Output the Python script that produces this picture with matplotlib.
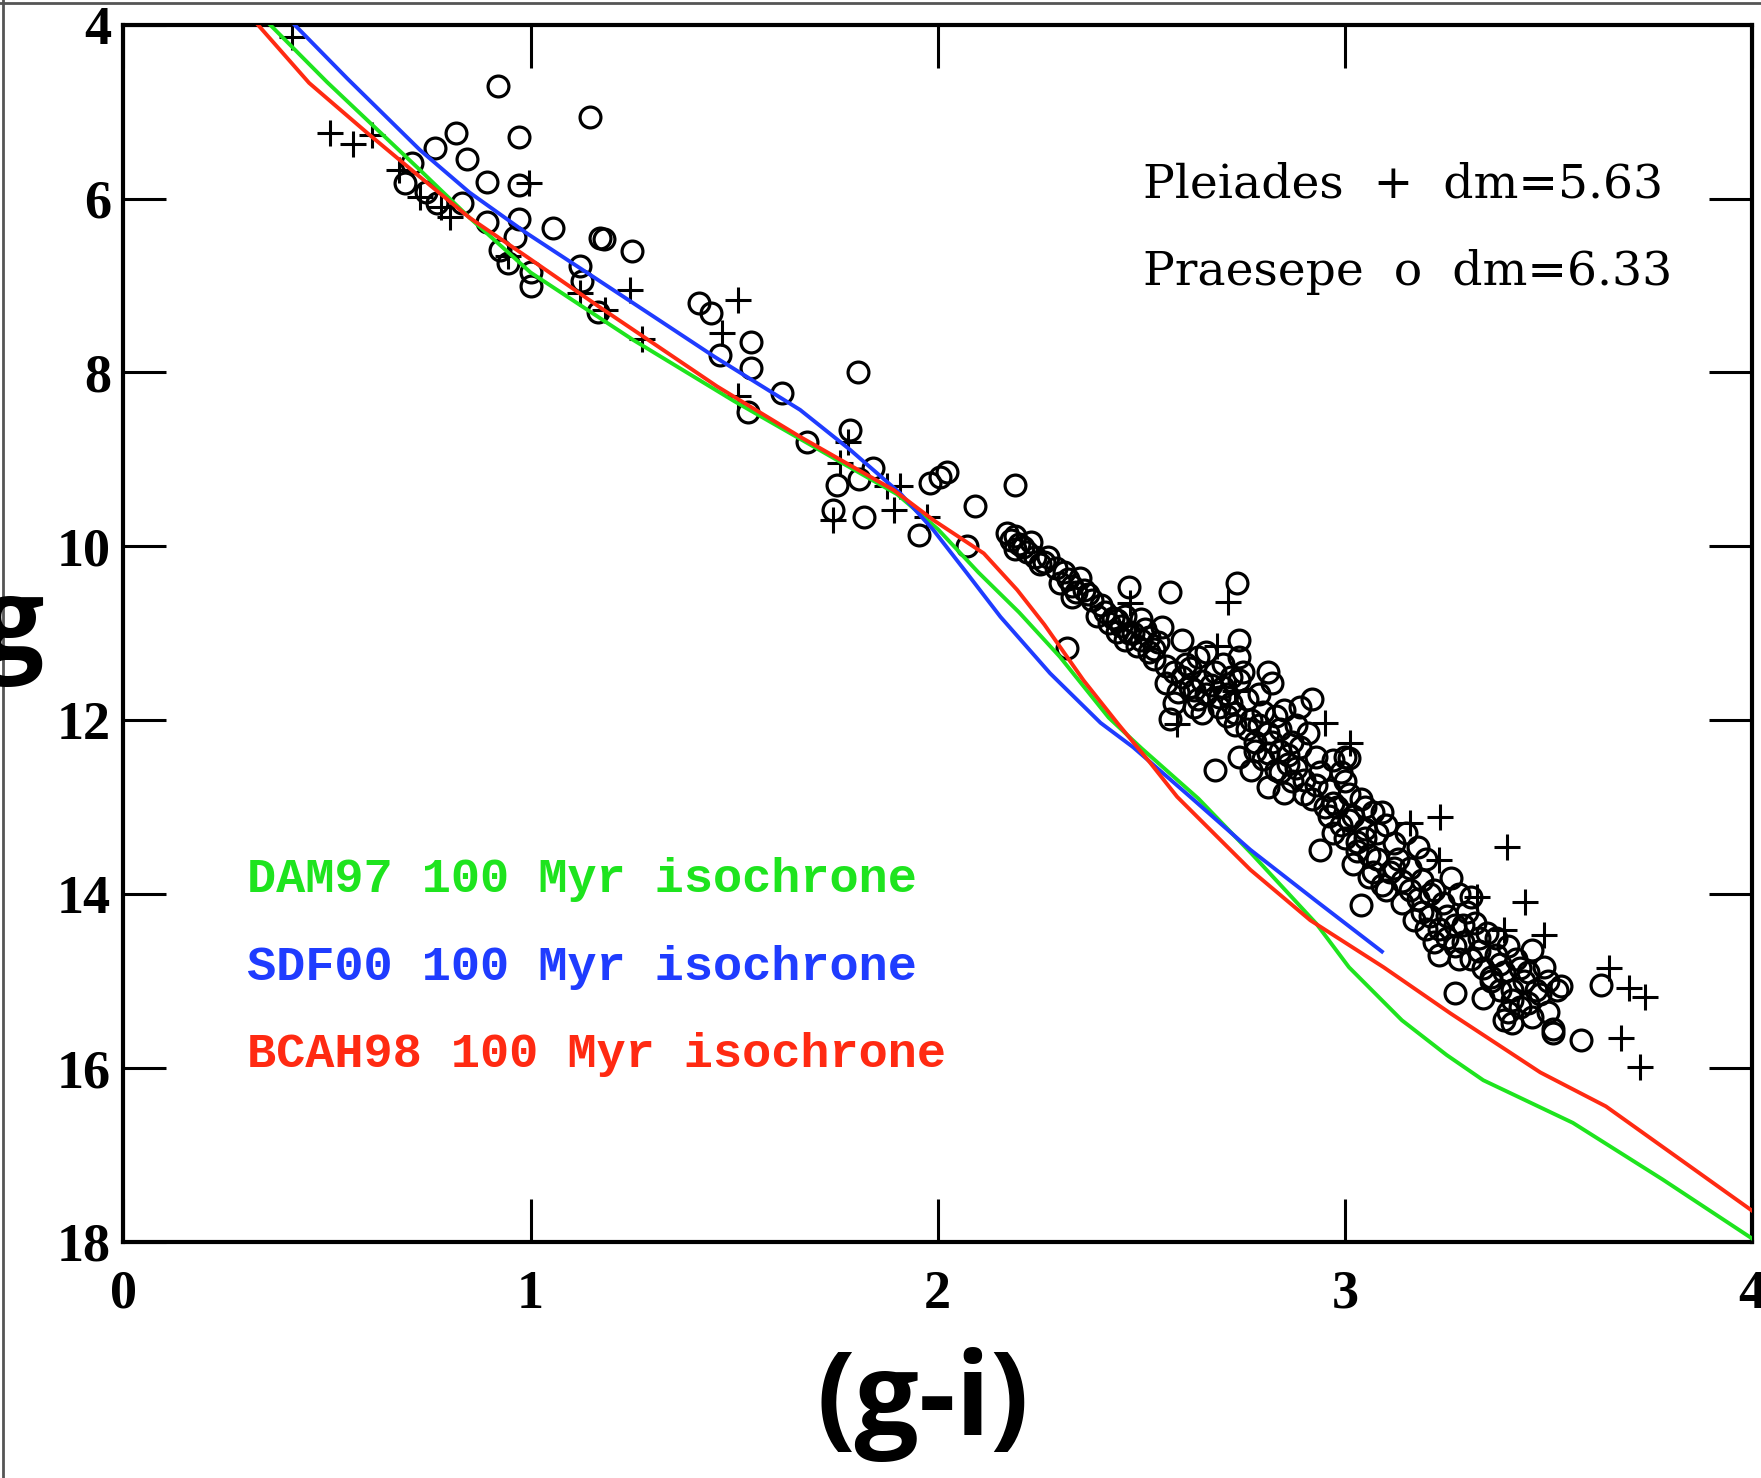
import matplotlib
matplotlib.use('Agg')
import matplotlib.pyplot as plt
from matplotlib.lines import Line2D

# Isochrones (g-i, g)
dam97_x = [0.36, 0.50, 0.728, 0.85, 1.0, 1.25, 1.5, 1.75, 1.9, 2.0, 2.1, 2.2, 2.3, 2.42,
           2.5, 2.64, 2.77, 2.93, 3.01, 3.14, 3.25, 3.34, 3.56, 3.78, 4.0]
dam97_y = [4.0, 4.66, 5.67, 6.22, 6.85, 7.62, 8.33, 9.0, 9.4, 9.8, 10.3, 10.76, 11.27, 11.97,
           12.32, 12.9, 13.53, 14.34, 14.84, 15.45, 15.85, 16.14, 16.63, 17.28, 17.96]

sdf00_x = [0.42, 0.55, 0.728, 0.85, 0.991, 1.167, 1.30, 1.452, 1.662, 1.785, 1.908, 1.989,
           2.072, 2.154, 2.276, 2.40, 2.48, 2.62, 2.768, 2.93, 3.091]
sdf00_y = [4.0, 4.62, 5.44, 5.93, 6.40, 6.94, 7.35, 7.82, 8.43, 8.89, 9.39, 9.81,
           10.31, 10.81, 11.46, 12.03, 12.31, 12.88, 13.49, 14.08, 14.66]

bcah98_x = [0.33, 0.456, 0.60, 0.728, 0.85, 0.991, 1.167, 1.30, 1.458, 1.662, 1.891, 1.99,
            2.113, 2.195, 2.262, 2.358, 2.441, 2.522, 2.588, 2.768, 2.915, 3.095, 3.259,
            3.48, 3.641, 4.0]
bcah98_y = [4.0, 4.67, 5.25, 5.75, 6.22, 6.67, 7.24, 7.66, 8.16, 8.74, 9.35, 9.70,
            10.08, 10.50, 10.90, 11.54, 12.03, 12.49, 12.88, 13.72, 14.30, 14.84, 15.37,
            16.05, 16.44, 17.64]

# Pleiades members (plus signs)
plei_x = [0.414, 0.507, 0.564, 0.611, 0.677, 0.728, 0.780, 0.803, 0.995, 0.944, 1.122,
          1.183, 1.245, 1.273, 1.471, 1.509, 1.51, 1.78, 1.761, 1.743, 1.875, 1.908,
          1.892, 1.973, 2.473, 2.687, 2.713, 2.588, 2.731, 2.952, 3.013, 3.161, 3.234,
          3.230, 3.398, 3.325, 3.443, 3.390, 3.488, 3.648, 3.697, 3.738, 3.677, 3.726]
plei_y = [4.14, 5.25, 5.37, 5.27, 5.67, 5.98, 6.10, 6.21, 5.82, 6.66, 7.09,
          7.28, 7.05, 7.61, 7.55, 7.17, 8.27, 8.80, 9.04, 9.70, 9.31, 9.31,
          9.58, 9.66, 10.65, 11.15, 10.64, 12.04, 11.66, 12.03, 12.26, 13.18, 13.11,
          13.61, 13.46, 14.03, 14.09, 14.41, 14.47, 14.85, 15.08, 15.18, 15.65, 15.99]

# Praesepe members (open circles)
prae_x = [0.92, 1.146, 0.972, 0.817, 0.766, 0.845, 0.709, 0.892, 0.972, 0.691, 0.742,
          0.77, 0.831, 0.892, 0.972, 1.056, 0.962, 1.17, 0.925, 0.944, 1.0, 1.0, 1.122,
          1.127, 1.165, 1.25, 1.181, 1.414, 1.443, 1.466, 1.542, 1.542, 1.617, 1.535,
          1.805, 1.679, 1.785, 1.752, 1.743, 1.842, 1.806, 1.818, 1.953, 1.982, 2.006,
          2.023, 2.092, 2.191, 2.072, 2.318,
          # dense sequence
          2.17, 2.18, 2.19, 2.20, 2.21, 2.19, 2.23, 2.22, 2.24, 2.27, 2.26, 2.31, 2.32,
          2.33, 2.36, 2.33, 2.30, 2.35,
          2.38, 2.41, 2.40, 2.42, 2.44, 2.46, 2.47, 2.43, 2.45, 2.50, 2.52, 2.49, 2.52,
          2.48, 2.46, 2.51, 2.55, 2.54, 2.57, 2.53, 2.50,
          2.56, 2.60, 2.60, 2.56, 2.59, 2.64, 2.66, 2.62, 2.65, 2.57, 2.65, 2.69, 2.64,
          2.68, 2.70, 2.63, 2.67, 2.72, 2.74, 2.74, 2.75, 2.74, 2.72, 2.71, 2.68, 2.62,
          2.58, 2.735, 2.70,
          2.81, 2.82, 2.73, 2.77, 2.81, 2.85, 2.89, 2.92, 2.74, 2.77, 2.81, 2.83, 2.81,
          2.85, 2.89, 2.93, 2.97, 2.90, 3.00, 2.79, 2.84, 2.87, 2.78, 2.86, 2.88, 2.91,
          2.83, 2.76, 2.80, 2.94, 2.87, 2.92, 2.80, 2.84,
          2.96, 2.98, 3.00, 3.01, 2.94, 3.02, 3.04, 3.05, 3.03, 2.99, 2.97, 3.07, 3.08,
          3.06, 3.10, 3.12, 3.13, 3.11, 3.04, 3.09, 3.14, 3.00, 2.96, 3.02, 3.07, 3.15,
          3.05, 3.09, 3.01,
          3.18, 3.19, 3.16, 3.20, 3.22, 3.26, 3.24, 3.21, 3.18, 3.28, 3.31, 3.30, 3.27,
          3.32, 3.25, 3.29, 3.33, 3.23, 3.35, 3.17, 3.20, 3.28, 3.34, 3.27, 3.34, 3.22,
          3.37, 3.40, 3.42, 3.39, 3.46, 3.49, 3.44, 3.41, 3.39, 3.41, 3.46, 3.51, 3.58,
          3.53, 3.63, 3.36, 3.38, 3.43, 3.47, 3.50, 3.40, 3.51, 3.37, 3.45,
          2.25, 2.29, 2.34, 2.37, 2.39, 2.44, 2.47, 2.53, 2.58, 2.61, 2.63, 2.66, 2.69,
          2.71, 2.73, 2.76, 2.78, 2.79, 2.82, 2.84, 2.86, 2.88, 2.90, 2.93, 2.95, 2.97,
          2.99, 3.01, 3.03, 3.05, 3.06, 3.08, 3.10, 3.12, 3.14, 3.16, 3.19, 3.21, 3.23,
          3.25, 3.27, 3.29, 3.31, 3.33, 3.36, 3.38, 3.41, 3.43, 3.45, 3.48, 3.50, 3.52]
prae_y = [4.70, 5.06, 5.29, 5.25, 5.42, 5.54, 5.59, 5.81, 5.84, 5.82, 5.92,
          6.05, 6.05, 6.27, 6.23, 6.34, 6.44, 6.45, 6.59, 6.74, 7.01, 6.85, 6.78,
          6.95, 7.30, 6.60, 6.47, 7.20, 7.32, 7.80, 7.65, 7.95, 8.24, 8.46,
          7.99, 8.80, 8.66, 9.29, 9.58, 9.10, 9.22, 9.66, 9.87, 9.27, 9.20,
          9.14, 9.54, 9.29, 10.00, 11.17,
          9.85, 9.93, 9.88, 9.97, 10.01, 10.03, 9.95, 10.06, 10.12, 10.12, 10.18, 10.30, 10.38,
          10.45, 10.50, 10.58, 10.42, 10.36,
          10.62, 10.75, 10.68, 10.88, 10.98, 11.08, 10.47, 10.82, 10.92, 10.84, 11.04, 11.15, 11.22,
          11.00, 10.80, 10.95, 10.93, 11.10, 10.53, 11.30, 11.08,
          11.38, 11.08, 11.50, 11.57, 11.68, 11.27, 11.22, 11.40, 11.55, 11.99, 11.92, 11.73, 11.76,
          11.45, 11.62, 11.85, 11.60, 11.50, 11.08, 11.27, 11.45, 11.54, 11.80, 11.95, 12.57, 11.62,
          11.80, 10.42, 11.35,
          11.44, 11.57, 11.92, 12.00, 12.15, 11.88, 11.85, 11.76, 12.42, 12.57, 12.38, 12.57, 12.77,
          12.84, 12.31, 12.42, 12.46, 12.69, 12.42, 11.70, 12.10, 12.25, 12.25, 12.50, 12.05, 12.15,
          11.95, 11.75, 11.90, 12.60, 12.70, 12.90, 12.45, 12.35,
          12.80, 13.00, 12.70, 12.43, 13.49, 13.10, 12.90, 13.25, 13.40, 13.20, 12.95, 13.05, 13.30,
          13.55, 13.20, 13.41, 13.60, 13.75, 14.12, 13.90, 13.85, 13.35, 13.10, 13.65, 13.75, 13.30,
          13.00, 13.05, 12.85,
          13.46, 13.84, 13.70, 13.60, 13.95, 13.81, 14.10, 14.25, 14.05, 14.00, 14.03, 14.20, 14.35,
          14.33, 14.50, 14.55, 14.65, 14.70, 14.45, 14.30, 14.40, 14.75, 14.85, 15.14, 15.19, 14.55,
          14.50, 14.60, 14.75, 14.90, 14.64, 14.84, 15.00, 15.22, 15.45, 15.48, 15.41, 15.60, 15.68,
          15.06, 15.04, 14.95, 15.10, 15.30, 15.10, 15.00, 15.35, 15.55, 14.70, 14.90,
          10.20, 10.25, 10.52, 10.55, 10.80, 10.85, 11.00, 11.18, 11.45, 11.35, 11.65, 11.70, 11.85,
          11.70, 12.05, 12.10, 12.35, 12.05, 12.25, 12.60, 12.40, 12.55, 12.85, 12.75, 13.00, 13.30,
          12.60, 13.15, 13.50, 13.35, 13.80, 13.60, 13.95, 13.70, 14.10, 13.95, 14.20, 14.00, 14.40,
          14.25, 14.60, 14.35, 14.75, 14.50, 15.00, 14.80, 15.10, 14.85, 15.25, 15.15, 15.35, 15.10]

GREEN = '#1ee41e'
BLUE = '#1f3cff'
RED = '#ff2a12'

fig = plt.figure(figsize=(17.61, 14.78), dpi=100)
ax = fig.add_axes([0.0701, 0.1597, 0.9248, 0.8236])

ax.plot(dam97_x, dam97_y, color=GREEN, lw=2.8, zorder=3)
ax.plot(sdf00_x, sdf00_y, color=BLUE, lw=2.8, zorder=3)
ax.plot(bcah98_x, bcah98_y, color=RED, lw=2.8, zorder=3)

ax.plot(prae_x, prae_y, 'o', ms=15, mfc='none', mec='black', mew=2.3, zorder=2)
ax.plot(plei_x, plei_y, '+', ms=19, mec='black', mew=2.2, zorder=2)

ax.set_xlim(0, 4)
ax.set_ylim(18, 4)
ax.set_xticks([0, 1, 2, 3, 4])
ax.set_yticks([4, 6, 8, 10, 12, 14, 16, 18])
ax.tick_params(axis='both', which='major', direction='in', length=31, width=2.2,
               top=True, right=True, labelsize=39)
ax.tick_params(axis='x', pad=20)
ax.tick_params(axis='y', pad=9)
for lab in ax.get_xticklabels() + ax.get_yticklabels():
    lab.set_fontfamily('Liberation Serif')
    lab.set_fontweight('bold')
for sp in ax.spines.values():
    sp.set_linewidth(3)

# Cluster annotations
ax.text(2.505, 5.84, 'Pleiades  +  dm=5.63', fontsize=34, family='DejaVu Serif', va='center')
ax.text(2.505, 6.84, 'Praesepe  o  dm=6.33', fontsize=34, family='DejaVu Serif', va='center')

# Isochrone labels
ax.text(0.303, 13.83, 'DAM97 100 Myr isochrone', color=GREEN, fontsize=35,
        family='Liberation Mono', weight='bold', va='center')
ax.text(0.303, 14.84, 'SDF00 100 Myr isochrone', color=BLUE, fontsize=35,
        family='Liberation Mono', weight='bold', va='center')
ax.text(0.303, 15.84, 'BCAH98 100 Myr isochrone', color=RED, fontsize=35,
        family='Liberation Mono', weight='bold', va='center')

# Axis titles
fig.text(923 / 1761, 1 - 1404 / 1478, '(g-i)', fontsize=82, family='Open Sans',
         weight='bold', ha='center', va='center')
fig.text(12 / 1761, 1 - 630 / 1478, 'g', fontsize=82, family='Open Sans',
         weight='bold', ha='center', va='center')

# slide frame edges
fig.add_artist(Line2D([0.0015, 0.0015], [0, 1], transform=fig.transFigure, color='#555555', lw=2))
fig.add_artist(Line2D([0, 1], [0.998, 0.998], transform=fig.transFigure, color='#555555', lw=2))

plt.savefig('out.png', dpi=100)
